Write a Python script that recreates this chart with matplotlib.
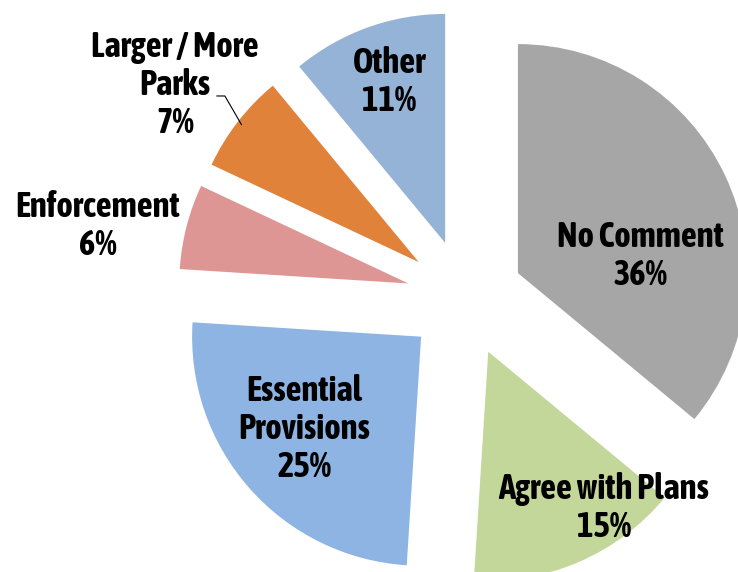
import numpy as np
import matplotlib
matplotlib.use('Agg')
import matplotlib.pyplot as plt
from matplotlib import font_manager

# Data
categories = ['No Comment', 'Agree with Plans', 'Essential\nProvisions',
              'Enforcement', 'Larger / More\nParks', 'Other']
percents = [36, 15, 25, 6, 7, 11]
colors = ['#A6A6A6', '#C4D79B', '#8DB4E2', '#DE9695', '#E0823A', '#95B3D7']

# label placement per slice: (distance in radii from wedge tip, angle offset deg)
label_pos = [(0.542, -17.3), (0.848, 13.1), (0.651, -3.1),
             (1.379, 4.0), (1.316, 1.8), (0.745, -0.6)]


def is_bold(f):
    wt = f.weight
    if isinstance(wt, str):
        wt = font_manager.weight_dict.get(wt, 400)
    return wt >= 600


# the original uses a bold condensed Arial-like face; use one only if a real bold exists
narrow_bold = sorted({f.name for f in font_manager.fontManager.ttflist
                      if ('Narrow' in f.name or 'Condensed' in f.name) and is_bold(f)})
if narrow_bold:
    family = [narrow_bold[0], 'Liberation Sans', 'DejaVu Sans']
    fsize = 25
else:
    family = ['Liberation Sans', 'DejaVu Sans']
    fsize = 21
plt.rcParams['font.family'] = family

fig = plt.figure(figsize=(7.38, 5.72), dpi=100)
ax = fig.add_axes([0, 0, 1, 1])

R = 229
wedges, _ = ax.pie(percents, colors=colors, startangle=90, counterclock=False,
                   radius=R, center=(465, 274), explode=[58.5] * len(percents),
                   wedgeprops=dict(linewidth=0))

ax.set_xlim(0, 738)
ax.set_ylim(0, 572)
ax.set_aspect('equal')
ax.axis('off')

for w, name, p, (dist, off) in zip(wedges, categories, percents, label_pos):
    mid = np.deg2rad((w.theta1 + w.theta2) / 2 + off)
    cx, cy = w.center
    x = cx + R * dist * np.cos(mid)
    y = cy + R * dist * np.sin(mid)
    ax.text(x, y, f'{name}\n{p}%', ha='center', va='center', multialignment='center',
            fontsize=fsize, fontweight='bold', color='black', linespacing=1.15)

# leader line for the "Larger / More Parks" slice
w = wedges[4]
cx, cy = w.center
mid = np.deg2rad((w.theta1 + w.theta2) / 2)
elbow_ang = np.deg2rad(139.4)
p0 = (cx + R * 0.98 * np.cos(mid), cy + R * 0.98 * np.sin(mid))
p1 = (cx + R * 1.115 * np.cos(elbow_ang), cy + R * 1.115 * np.sin(elbow_ang))
p2 = (p1[0] - 8, p1[1])
ax.plot([p0[0], p1[0], p2[0]], [p0[1], p1[1], p2[1]], color='black', linewidth=0.8)

fig.savefig('out.png', dpi=100)
